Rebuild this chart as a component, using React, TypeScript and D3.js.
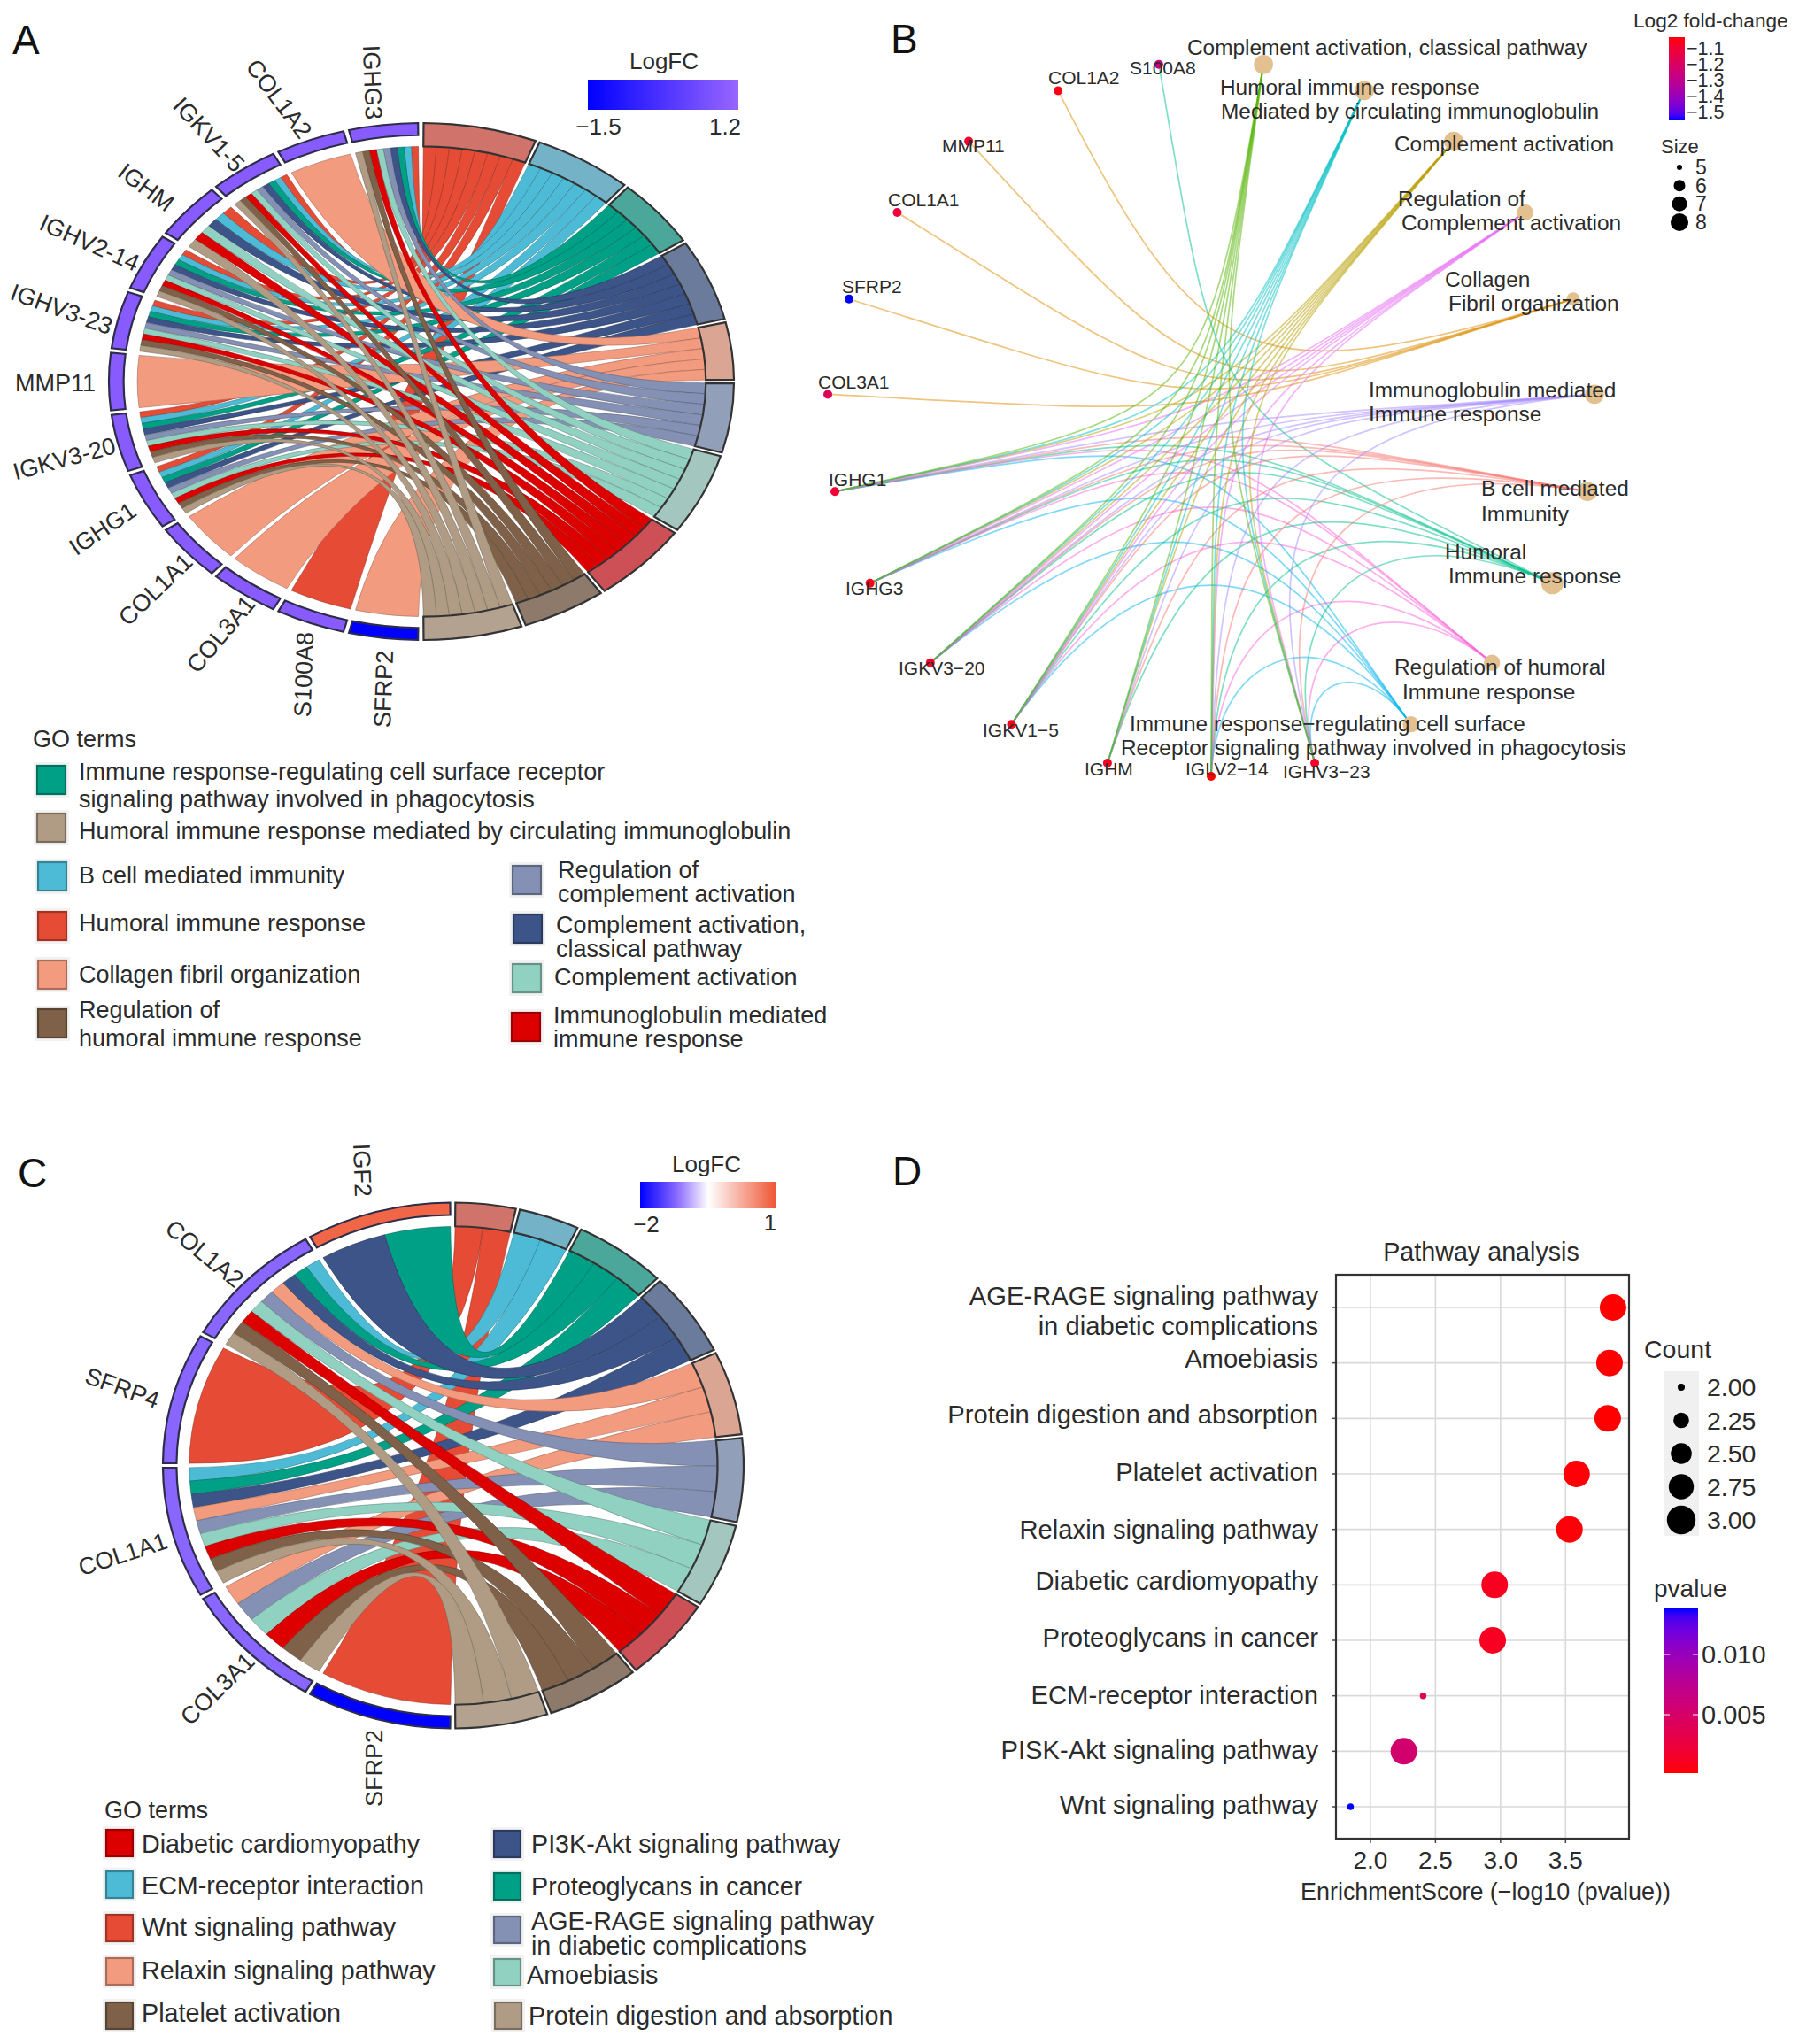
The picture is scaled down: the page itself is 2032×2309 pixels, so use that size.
import React from 'react';
import * as d3 from 'd3';

const FONT = '"Liberation Sans", Arial, sans-serif';
const INK = '#2b2b2b';

// palette shared by both chord diagrams
const ribbonColors = ['#E64B35', '#4DBBD5', '#00A087', '#3C5488', '#F39B7F', '#8491B4', '#91D1C2', '#DC0000', '#7E6148', '#B09C85'];
const ringColors = ['#D0736A', '#74B2C8', '#4BA79A', '#6A7B9C', '#DAA593', '#919FB8', '#A3C7BF', '#CC5055', '#8D7A6A', '#B3A290'];

// panel A
const genesA = ['IGHG3', 'COL1A2', 'IGKV1-5', 'IGHM', 'IGHV2-14', 'IGHV3-23', 'MMP11', 'IGKV3-20', 'IGHG1', 'COL1A1', 'COL3A1', 'S100A8', 'SFRP2'];
const logFcA = [0.9, 0.9, 0.9, 0.9, 0.9, 0.9, 0.9, 0.9, 0.9, 0.9, 0.9, 0.9, -1.5];
const allNine = [0, 1, 2, 3, 5, 6, 7, 8, 9];
const geneTermsA = [allNine, [4], allNine, [0, 1, 3, 6, 7, 9], allNine, allNine, [4], allNine, allNine, [4], [4], [0], [4]];
// text end x, y and rotation of the gene names
const geneLabelPosA = [[422, 135, 88], [346, 153, 53], [271, 190, 47], [193, 233, 37], [156, 299, 24], [126, 370, 20], [108, 433, 0], [130, 503, -15], [151, 574, -34], [213, 630, -44], [283, 677, -50], [345, 714, -88], [435, 735, -88]];

// panel C
const genesC = ['IGF2', 'COL1A2', 'SFRP4', 'COL1A1', 'COL3A1', 'SFRP2'];
const logFcC = [0.85, -1.2, -1.2, -1.2, -1.2, -2];
const geneTermsC = [[2, 3], [1, 2, 3, 4, 5, 6, 7, 8, 9], [0], [1, 2, 3, 4, 5, 6, 7, 8, 9], [4, 5, 6, 7, 8, 9], [0]];
const geneLabelPosC = [[410, 1352, 88], [271, 1449, 39], [179, 1583, 20], [188, 1740, -18], [283, 1872, -44], [423, 1954, -90]];

// panel B
const netGenes = ['S100A8', 'COL1A2', 'MMP11', 'COL1A1', 'SFRP2', 'COL3A1', 'IGHG1', 'IGHG3', 'IGKV3\u221220', 'IGKV1\u22125', 'IGHM', 'IGLV2\u221214', 'IGHV3\u221223'];
const netGeneFc = [-1.27, -1.1, -1.13, -1.15, -1.5, -1.2, -1.14, -1.1, -1.12, -1.1, -1.11, -1.08, -1.12];
const netTerms = ['ir', 'regHumoral', 'humoral', 'bcell', 'igm', 'collagen', 'regComp', 'comp', 'humMed', 'classical'];
const netTermSize = [6, 6, 8, 7, 7, 5, 6, 7, 7, 7];
const netTermColors = ['#00B4F0', '#FB61D7', '#00C08B', '#F8766D', '#A58AFF', '#DE8C00', '#E76BF3', '#B79F00', '#00BFC4', '#53B400'];
const netIg = ['IGHG1', 'IGHG3', 'IGKV3\u221220', 'IGKV1\u22125', 'IGHM', 'IGLV2\u221214', 'IGHV3\u221223'];
const netIgNoM = netIg.filter((g) => g !== 'IGHM');
const netMembers = [
  netIgNoM, netIgNoM, ['S100A8', ...netIg], netIg, netIg,
  ['COL1A2', 'MMP11', 'COL1A1', 'SFRP2', 'COL3A1'],
  netIgNoM, netIg, netIg, netIg,
];
const netFcTicks = [-1.1, -1.2, -1.3, -1.4, -1.5];
const netSizeTicks = [5, 6, 7, 8];

// panel D
const pathways = ['AGE-RAGE', 'Amoebiasis', 'Protein digestion', 'Platelet', 'Relaxin', 'Diabetic', 'Proteoglycans', 'ECM', 'PI3K', 'Wnt'];
const enrichment = [3.865, 3.838, 3.824, 3.585, 3.53, 2.955, 2.94, 2.405, 2.257, 1.847];
const counts = [3, 3, 3, 3, 3, 3, 3, 2, 3, 2];
const pvalues = [0.00014, 0.00015, 0.00015, 0.00026, 0.0003, 0.0011, 0.00115, 0.0039, 0.0055, 0.0142];
const countTicks = [2, 2.25, 2.5, 2.75, 3];

type Txt = [string, number, number];

const legendTextA: Txt[] = [
  ['GO terms', 37, 835],
  ['Immune response-regulating cell surface receptor', 89, 872],
  ['signaling pathway involved in phagocytosis', 89, 903],
  ['Humoral immune response mediated by circulating immunoglobulin', 89, 939],
  ['B cell mediated immunity', 89, 989],
  ['Humoral immune response', 89, 1043],
  ['Collagen fibril organization', 89, 1101],
  ['Regulation of', 89, 1141],
  ['humoral immune response', 89, 1173],
  ['Regulation of', 630, 983],
  ['complement activation', 630, 1010],
  ['Complement activation,', 628, 1045],
  ['classical pathway', 628, 1072],
  ['Complement activation', 626, 1104],
  ['Immunoglobulin mediated', 625, 1147],
  ['immune response', 625, 1174],
];
// [palette index, x, y]
const legendKeysA = [[2, 42, 865], [9, 42, 919], [1, 43, 974], [0, 43, 1030], [4, 43, 1085], [8, 43, 1140], [5, 579, 978], [3, 580, 1033], [6, 579, 1089], [7, 578, 1144]];

const legendTextC: Txt[] = [
  ['GO terms', 118, 2045],
  ['Diabetic cardiomyopathy', 160, 2083],
  ['ECM-receptor interaction', 160, 2130],
  ['Wnt signaling pathway', 160, 2177],
  ['Relaxin signaling pathway', 160, 2226],
  ['Platelet activation', 160, 2274],
  ['PI3K-Akt signaling pathway', 600, 2083],
  ['Proteoglycans in cancer', 600, 2131],
  ['AGE-RAGE signaling pathway', 600, 2170],
  ['in diabetic complications', 600, 2198],
  ['Amoebiasis', 595, 2231],
  ['Protein digestion and absorption', 597, 2277],
];
const legendKeysC = [[7, 120, 2067], [1, 120, 2114], [0, 120, 2163], [4, 120, 2212], [8, 120, 2262], [3, 558, 2068], [2, 558, 2116], [5, 558, 2165], [6, 558, 2213], [9, 559, 2262]];

const netLabels: Txt[] = [
  ['Complement activation, classical pathway', 1341, 53],
  ['Humoral immune response', 1378, 98],
  ['Mediated by circulating immunoglobulin', 1379, 125],
  ['Complement activation', 1575, 162],
  ['Regulation of', 1579, 224],
  ['Complement activation', 1583, 251],
  ['Collagen', 1632, 315],
  ['Fibril organization', 1636, 342],
  ['Immunoglobulin mediated', 1546, 440],
  ['Immune response', 1546, 467],
  ['B cell mediated', 1673, 551],
  ['Immunity', 1673, 580],
  ['Humoral', 1632, 623],
  ['Immune response', 1636, 650],
  ['Regulation of humoral', 1575, 753],
  ['Immune response', 1584, 781],
  ['Immune response\u2212regulating cell surface', 1276, 817],
  ['Receptor signaling pathway involved in phagocytosis', 1266, 844],
];
const netGeneLabels: Txt[] = [
  ['S100A8', 1276, 76], ['COL1A2', 1184, 87], ['MMP11', 1064, 164], ['COL1A1', 1003, 225],
  ['SFRP2', 951, 323], ['COL3A1', 924, 431], ['IGHG1', 936, 541], ['IGHG3', 955, 664],
  ['IGKV3\u221220', 1015, 754], ['IGKV1\u22125', 1110, 824], ['IGHM', 1225, 868],
  ['IGLV2\u221214', 1339, 868], ['IGHV3\u221223', 1449, 871],
];
const pathwayLabels: Txt[] = [
  ['AGE-RAGE signaling pathway', 1489, 1464],
  ['in diabetic complications', 1489, 1498],
  ['Amoebiasis', 1489, 1535],
  ['Protein digestion and absorption', 1489, 1598],
  ['Platelet activation', 1489, 1663],
  ['Relaxin signaling pathway', 1489, 1728],
  ['Diabetic cardiomyopathy', 1489, 1786],
  ['Proteoglycans in cancer', 1489, 1850],
  ['ECM-receptor interaction', 1489, 1915],
  ['PISK-Akt signaling pathway', 1489, 1977],
  ['Wnt signaling pathway', 1489, 2039],
];

const TXT = (props: any) => (
  <text fontFamily={FONT} fill={INK} dominantBaseline="central" {...props} />
);

const R = 1000; // chords are laid out on a circle of this radius, then squashed to an ellipse
const GENE_GAP = 0.018;

function Chord({ cx, cy, rx, ry, genes, geneTerms, geneColor, labelPos, labelSize }: any) {
  const nTerms = ribbonColors.length;
  // how many genes hit each term: sets the width of the term block
  const termGenes: number[][] = d3.range(nTerms).map((t) =>
    genes.map((_: string, g: number) => g).filter((g: number) => geneTerms[g].includes(t)),
  );
  const sizes = termGenes.map((l) => l.length);
  const cum = [0, ...d3.cumsum(sizes)];
  const termAngle = d3.scaleLinear().domain([0, cum[nTerms]]).range([0, Math.PI]);
  const termPad = 0.007;
  const band = d3.scaleBand<string>().domain(genes).range([0, Math.PI])
    .paddingInner((GENE_GAP * genes.length) / Math.PI).paddingOuter((0.6 * GENE_GAP * genes.length) / Math.PI);

  const ribbon = d3.ribbon<any, any>();
  const termArc = d3.arc<any>().innerRadius(R * 0.91).outerRadius(R);
  const geneArc = d3.arc<any>().innerRadius(R * 0.953).outerRadius(R);

  const geneSpan = (g: string) => {
    const a = band(g) as number;
    return [2 * Math.PI - a - band.bandwidth(), 2 * Math.PI - a];
  };

  const ribbons: any[] = [];
  d3.range(nTerms).forEach((t) => {
    const t0 = termAngle(cum[t]) + termPad;
    const t1 = termAngle(cum[t + 1]) - termPad;
    termGenes[t].forEach((g, k) => {
      const [g0, g1] = geneSpan(genes[g]);
      const n = geneTerms[g].length;
      const j = geneTerms[g].indexOf(t);
      const step = (g1 - g0) / n;
      const tStep = (t1 - t0) / termGenes[t].length;
      ribbons.push({
        t,
        d: ribbon({
          source: { startAngle: g1 - step * (j + 1), endAngle: g1 - step * j, radius: R * 0.909 },
          target: { startAngle: t0 + tStep * k, endAngle: t0 + tStep * (k + 1), radius: R * 0.912 },
        }),
      });
    });
  });

  return (
    <g>
      <g transform={`translate(${cx},${cy}) scale(${rx / R},${ry / R})`}>
        {ribbons.map((r, i) => (
          <path key={i} d={r.d as any} fill={ribbonColors[r.t]} stroke={d3.color(ribbonColors[r.t])!.darker(1.3).formatHex()}
            strokeOpacity={0.55} strokeWidth={1} vectorEffect="non-scaling-stroke" />
        ))}
        {d3.range(nTerms).map((t) => (
          <path key={t} d={termArc({ startAngle: termAngle(cum[t]) + termPad, endAngle: termAngle(cum[t + 1]) - termPad }) as string}
            fill={ringColors[t]} stroke="#333" strokeWidth={2.2} vectorEffect="non-scaling-stroke" />
        ))}
        {genes.map((g: string, i: number) => {
          const [a0, a1] = geneSpan(g);
          return <path key={g} d={geneArc({ startAngle: a0, endAngle: a1 }) as string} fill={geneColor(i)}
            stroke="#2d2d4a" strokeWidth={2.2} vectorEffect="non-scaling-stroke" />;
        })}
      </g>
      {genes.map((g: string, i: number) => {
        const [x, y, rot] = labelPos[i];
        return (
          <TXT key={g} transform={`translate(${x},${y}) rotate(${rot})`} textAnchor="end" fontSize={labelSize}>{g}</TXT>
        );
      })}
    </g>
  );
}

function LegendKeys({ keys, w }: { keys: number[][]; w: number }) {
  return (
    <g>
      {keys.map(([c, x, y], i) => (
        <g key={i}>
          <rect x={x - 4} y={y - 4} width={w + 8} height={w + 8} fill="#f2f2f2" />
          <rect x={x} y={y} width={w} height={w} fill={ribbonColors[c]}
            stroke={d3.color(ribbonColors[c])!.darker(1).formatHex()} strokeWidth={2.2} />
        </g>
      ))}
    </g>
  );
}

function GradientBar({ id, x, y, w, h, scale, stops, vertical }: any) {
  return (
    <g>
      <defs>
        <linearGradient id={id} x1="0" y1={vertical ? '1' : '0'} x2={vertical ? '0' : '1'} y2="0">
          {d3.range(21).map((i) => {
            const f = i / 20;
            return <stop key={i} offset={f} stopColor={scale(stops[0] + (stops[1] - stops[0]) * f)} />;
          })}
        </linearGradient>
      </defs>
      <rect x={x} y={y} width={w} height={h} fill={`url(#${id})`} />
    </g>
  );
}

function Network() {
  const cx = 1368, cy = 473, rx = 434, ry = 404;
  const nodes = [...netGenes, ...netTerms];
  const angle = d3.scaleLinear().domain([0, nodes.length]).range([-Math.PI / nodes.length, -Math.PI / nodes.length - 2 * Math.PI]);
  const unit = (n: string) => {
    const a = angle(nodes.indexOf(n));
    return [Math.sin(a), -Math.cos(a), a];
  };
  const sx = d3.scaleLinear().domain([-1, 1]).range([cx - rx, cx + rx]);
  const sy = d3.scaleLinear().domain([-1, 1]).range([cy - ry, cy + ry]);
  const fc = d3.scaleLinear<string>().domain([-1.5, -1.08]).range(['#0000FF', '#FF0000']).interpolate(d3.interpolateLab);
  const size = (s: number) => d3.scaleLinear().domain([5, 8]).range([7.5, 12.5])(s);

  // edges leave each node roughly radially, close pairs make a small arch, far pairs run through the middle
  const FAN = 0.03;
  const edge = (a: string, b: string) => {
    const [x0, y0, t0] = unit(a);
    const [x1, y1, t1] = unit(b);
    let phi = Math.abs(t0 - t1) % (2 * Math.PI);
    if (phi > Math.PI) phi = 2 * Math.PI - phi;
    const k = Math.min(1, 0.12 + (1.4 * phi) / Math.PI);
    const p = d3.path();
    p.moveTo(sx(x0), sy(y0));
    p.bezierCurveTo(
      sx(x0 * (1 - k) + (x1 - x0) * FAN), sy(y0 * (1 - k) + (y1 - y0) * FAN),
      sx(x1 * (1 - k) + (x0 - x1) * FAN), sy(y1 * (1 - k) + (y0 - y1) * FAN),
      sx(x1), sy(y1),
    );
    return p.toString();
  };

  return (
    <g>
      {netTerms.map((t, i) => netMembers[i].map((g) => (
        <path key={t + g} d={edge(t, g)} fill="none" stroke={netTermColors[i]} strokeOpacity={0.5} strokeWidth={1.7} />
      )))}
      {netTerms.map((t, i) => {
        const [x, y] = unit(t);
        return <circle key={t} cx={sx(x)} cy={sy(y)} r={size(netTermSize[i])} fill="#E3C08F" />;
      })}
      {netGenes.map((g, i) => {
        const [x, y] = unit(g);
        return <circle key={g} cx={sx(x)} cy={sy(y)} r={5} fill={fc(netGeneFc[i])} />;
      })}
      {netLabels.map(([s, x, y], i) => <TXT key={i} x={x} y={y} fontSize={24.4}>{s}</TXT>)}
      {netGeneLabels.map(([s, x, y], i) => <TXT key={i} x={x} y={y} fontSize={21}>{s}</TXT>)}

      <TXT x={1845} y={23} fontSize={22.6}>Log2 fold-change</TXT>
      <GradientBar id="fcBar" x={1885} y={42} w={18} h={93} scale={fc} stops={[-1.5, -1.08]} vertical />
      {netFcTicks.map((v) => (
        <TXT key={v} x={1905} y={d3.scaleLinear().domain([-1.1, -1.5]).range([55, 127])(v)} fontSize={21.5}>{`\u2212${Math.abs(v).toFixed(1)}`}</TXT>
      ))}
      <TXT x={1876} y={165} fontSize={22}>Size</TXT>
      {netSizeTicks.map((s, i) => {
        const y = d3.scalePoint<number>().domain(netSizeTicks).range([189, 251])(s) as number;
        return (
          <g key={s}>
            <circle cx={1897} cy={y} r={[3, 6.5, 8.5, 10][i]} fill="#000" />
            <TXT x={1915} y={y} fontSize={23}>{s}</TXT>
          </g>
        );
      })}
    </g>
  );
}

function Dots() {
  const left = 1509, right = 1840, top = 1440, bottom = 2077;
  const x = d3.scaleLinear().domain([1.735, 3.988]).range([left, right]);
  const y = d3.scalePoint<string>().domain(pathways).range([1477, 2041]);
  const pColor = d3.scaleLinear<string>().domain([0.00014, 0.0142]).range(['#FF0000', '#0000FF']).interpolate(d3.interpolateLab);
  const rSize = (c: number) => Math.sqrt(d3.scaleLinear().domain([2, 3]).range([14, 225])(c));
  const pBar = d3.scaleLinear().domain([0.005, 0.01]).range([1937, 1869]);
  const countY = d3.scalePoint<number>().domain(countTicks).range([1567, 1717]);

  return (
    <g>
      <rect x={left} y={top} width={right - left} height={bottom - top} fill="#fff" />
      {x.ticks(4).map((t) => (
        <g key={t}>
          <line x1={x(t)} x2={x(t)} y1={top} y2={bottom} stroke="#d9d9d9" strokeWidth={1.6} />
          <line x1={x(t)} x2={x(t)} y1={bottom} y2={bottom + 5} stroke="#444" strokeWidth={1.5} />
          <TXT x={x(t)} y={2101} textAnchor="middle" fontSize={28}>{t.toFixed(1)}</TXT>
        </g>
      ))}
      {pathways.map((p) => (
        <g key={p}>
          <line x1={left} x2={right} y1={y(p)} y2={y(p)} stroke="#d9d9d9" strokeWidth={1.6} />
          <line x1={left - 5} x2={left} y1={y(p)} y2={y(p)} stroke="#444" strokeWidth={1.5} />
        </g>
      ))}
      <rect x={left} y={top} width={right - left} height={bottom - top} fill="none" stroke="#333" strokeWidth={2.2} />
      {pathways.map((p, i) => (
        <circle key={p} cx={x(enrichment[i])} cy={y(p)} r={rSize(counts[i])} fill={pColor(pvalues[i])} />
      ))}
      {pathwayLabels.map(([s, lx, ly], i) => <TXT key={i} x={lx} y={ly} textAnchor="end" fontSize={29.2}>{s}</TXT>)}
      <TXT x={1673} y={1414} textAnchor="middle" fontSize={28.7}>Pathway analysis</TXT>
      <TXT x={1678} y={2137} textAnchor="middle" fontSize={26.9}>{'EnrichmentScore (\u2212log10 (pvalue))'}</TXT>

      <TXT x={1857} y={1524} fontSize={28.5}>Count</TXT>
      <rect x={1880} y={1549} width={39} height={186} fill="#f0f0f0" />
      {countTicks.map((c) => (
        <g key={c}>
          <circle cx={1899} cy={countY(c)} r={rSize(c) * 1.08} fill="#000" />
          <TXT x={1928} y={countY(c)} fontSize={28.5}>{c.toFixed(2)}</TXT>
        </g>
      ))}
      <TXT x={1868} y={1794} fontSize={28}>pvalue</TXT>
      <GradientBar id="pBar" x={1880} y={1817} w={38} h={186} scale={pColor} stops={[0.00014, 0.0142]} vertical />
      {[0.01, 0.005].map((v) => (
        <g key={v}>
          <line x1={1880} x2={1886} y1={pBar(v)} y2={pBar(v)} stroke="#fff" />
          <line x1={1912} x2={1918} y1={pBar(v)} y2={pBar(v)} stroke="#fff" />
          <TXT x={1922} y={pBar(v)} fontSize={29}>{v.toFixed(3)}</TXT>
        </g>
      ))}
    </g>
  );
}

export default function App() {
  const scaleA = d3.scaleLinear<string>().domain([-1.5, 1.2]).range(['#0000FF', '#9966FF']);
  const scaleC = d3.scaleLinear<string>().domain([-2, -1.2, -0.5, 1]).range(['#0000FF', '#8866FF', '#FFFFFF', '#EE5533']);

  return (
    <svg width={2032} height={2309} viewBox="0 0 2032 2309" style={{ position: 'absolute', left: 0, top: 0, background: '#fff' }}>
      <TXT x={14} y={45} fontSize={46} fill="#111">A</TXT>
      <TXT x={1006} y={44} fontSize={46} fill="#111">B</TXT>
      <TXT x={20} y={1325} fontSize={46} fill="#111">C</TXT>
      <TXT x={1008} y={1323} fontSize={46} fill="#111">D</TXT>

      <Chord cx={476} cy={431} rx={353} ry={292} genes={genesA} geneTerms={geneTermsA}
        geneColor={(i: number) => scaleA(logFcA[i])} labelPos={geneLabelPosA} labelSize={27} />
      <TXT x={750} y={69} textAnchor="middle" fontSize={26}>LogFC</TXT>
      <GradientBar id="fcA" x={664} y={90} w={170} h={34} scale={scaleA} stops={[-1.5, 1.2]} />
      <TXT x={676} y={143} textAnchor="middle" fontSize={26}>{'\u22121.5'}</TXT>
      <TXT x={819} y={143} textAnchor="middle" fontSize={26}>1.2</TXT>
      <LegendKeys keys={legendKeysA} w={32} />
      {legendTextA.map(([s, x, y], i) => <TXT key={i} x={x} y={y} fontSize={27}>{s}</TXT>)}

      <Network />

      <Chord cx={512} cy={1655.5} rx={328} ry={297} genes={genesC} geneTerms={geneTermsC}
        geneColor={(i: number) => scaleC(logFcC[i])} labelPos={geneLabelPosC} labelSize={27} />
      <TXT x={798} y={1315} textAnchor="middle" fontSize={26}>LogFC</TXT>
      <GradientBar id="fcC" x={723} y={1335} w={154} h={30} scale={scaleC} stops={[-2, 1]} />
      <TXT x={730} y={1383} textAnchor="middle" fontSize={26}>{'\u22122'}</TXT>
      <TXT x={870} y={1381} textAnchor="middle" fontSize={26}>1</TXT>
      <LegendKeys keys={legendKeysC} w={30} />
      {legendTextC.map(([s, x, y], i) => <TXT key={i} x={x} y={y} fontSize={i === 0 ? 27 : 28.7}>{s}</TXT>)}

      <Dots />
    </svg>
  );
}
